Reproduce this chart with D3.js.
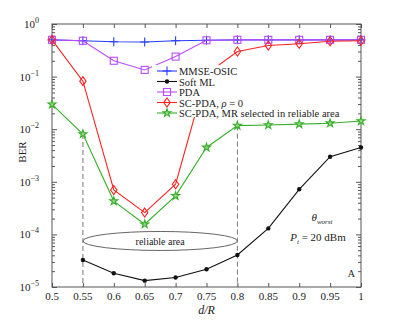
<!DOCTYPE html>
<html>
<head>
<meta charset="utf-8">
<script src="https://cdn.jsdelivr.net/npm/d3@7"></script>
<style>
  body { margin: 0; background: #fff; }
  svg text { font-family: "Liberation Serif", "DejaVu Serif", serif; }
</style>
</head>
<body>
<svg id="chart"></svg>
<script>
/* BER vs d/R chart */

const ratios = [0.5, 0.55, 0.6, 0.65, 0.7, 0.75, 0.8, 0.85, 0.9, 0.95, 1];
const mlRatios = [0.55, 0.6, 0.65, 0.7, 0.75, 0.8, 0.85, 0.9, 0.95, 1];

const mmseOsic = [0.5, 0.48, 0.46, 0.455, 0.48, 0.49, 0.5, 0.5, 0.5, 0.5, 0.5];
const softMl = [3.25e-5, 1.82e-5, 1.32e-5, 1.52e-5, 2.18e-5, 4.07e-5, 1.3e-4, 7.2e-4, 3.0e-3, 4.5e-3];
const pda = [0.5, 0.48, 0.2, 0.134, 0.24, 0.49, 0.5, 0.5, 0.5, 0.5, 0.5];
const scPda = [0.5, 0.082, 7.0e-4, 2.6e-4, 9.0e-4, 0.112, 0.3, 0.39, 0.42, 0.47, 0.48];
const scPdaMr = [0.0297, 0.0081, 4.3e-4, 1.56e-4, 5.4e-4, 0.0045, 0.0117, 0.012, 0.0125, 0.013, 0.0143];

const xTicks = [0.5, 0.55, 0.6, 0.65, 0.7, 0.75, 0.8, 0.85, 0.9, 0.95, 1];
const xTickLabels = ["0.5", "0.55", "0.6", "0.65", "0.7", "0.75", "0.8", "0.85", "0.9", "0.95", "1"];
const yTicks = [1e-5, 1e-4, 1e-3, 1e-2, 1e-1, 1];
const yExponents = ["−5", "−4", "−3", "−2", "−1", "0"];

const reliable = [0.55, 0.8];

const width = 399, height = 324;
const margin = {top: 24, right: 38, bottom: 37, left: 52};

const svg = d3.select("#chart").attr("width", width).attr("height", height);

const x = d3.scaleLinear().domain([0.5, 1]).range([margin.left, width - margin.right]);
const y = d3.scaleLog().domain([1e-5, 1]).range([height - margin.bottom, margin.top]);

const axisColor = "#555";

/*** frame */
svg.append("rect")
    .attr("x", margin.left).attr("y", margin.top)
    .attr("width", x(1) - x(0.5)).attr("height", y(1e-5) - y(1))
    .attr("fill", "none").attr("stroke", axisColor).attr("stroke-width", 1);

/*** minor ticks on y */
let minors = [];
for (let e = -5; e < 0; e++) for (let k = 2; k <= 9; k++) minors.push(k * Math.pow(10, e));

const yAxisL = d3.axisLeft(y).tickValues(yTicks).tickSizeInner(-5).tickSizeOuter(0).tickFormat("");
const yAxisR = d3.axisRight(y).tickValues(yTicks).tickSizeInner(-5).tickSizeOuter(0).tickFormat("");
const yMinorL = d3.axisLeft(y).tickValues(minors).tickSizeInner(-3).tickSizeOuter(0).tickFormat("");
const yMinorR = d3.axisRight(y).tickValues(minors).tickSizeInner(-3).tickSizeOuter(0).tickFormat("");
const xAxisB = d3.axisBottom(x).tickValues(xTicks).tickSizeInner(-4).tickSizeOuter(0).tickFormat("");
const xAxisT = d3.axisTop(x).tickValues(xTicks).tickSizeInner(-4).tickSizeOuter(0).tickFormat("");

[[yAxisL, `translate(${margin.left},0)`], [yMinorL, `translate(${margin.left},0)`],
 [yAxisR, `translate(${width - margin.right},0)`], [yMinorR, `translate(${width - margin.right},0)`],
 [xAxisB, `translate(0,${height - margin.bottom})`], [xAxisT, `translate(0,${margin.top})`]]
  .forEach(([ax, tr]) => {
    const g = svg.append("g").attr("transform", tr).call(ax);
    g.select(".domain").remove();
    g.selectAll("line").attr("stroke", axisColor);
  });

/*** tick labels */
svg.append("g").selectAll("text")
    .data(xTicks)
    .join("text")
    .attr("x", d => x(d))
    .attr("y", height - margin.bottom + 13)
    .attr("text-anchor", "middle")
    .attr("font-size", "11px")
    .attr("fill", "#222")
    .text((d, i) => xTickLabels[i]);

const yl = svg.append("g").selectAll("text")
    .data(yTicks)
    .join("text")
    .attr("x", margin.left - 13)
    .attr("y", d => y(d) + 4)
    .attr("text-anchor", "end")
    .attr("font-size", "11px")
    .attr("fill", "#222");
yl.append("tspan").text("10");
yl.append("tspan").attr("dy", -5).attr("font-size", "8px").text((d, i) => yExponents[i]);

/*** axis titles */
svg.append("text")
    .attr("x", (x(0.5) + x(1)) / 2).attr("y", height - margin.bottom + 27)
    .attr("text-anchor", "middle").attr("font-size", "12px").attr("font-style", "italic")
    .attr("fill", "#222")
    .text("d/R");

svg.append("text")
    .attr("transform", `translate(26,152) rotate(-90)`)
    .attr("text-anchor", "middle").attr("font-size", "11px").attr("fill", "#222")
    .text("BER");

/*** dashed reliable-area lines and ellipse */
svg.append("g").selectAll("line")
    .data(reliable)
    .join("line")
    .attr("x1", d => x(d)).attr("x2", d => x(d))
    .attr("y1", d => y(scPdaMr[ratios.indexOf(d)]))
    .attr("y2", y(1e-5))
    .attr("stroke", "#777").attr("stroke-dasharray", "5,3").attr("stroke-width", 1);

svg.append("ellipse")
    .attr("cx", (x(reliable[0]) + x(reliable[1])) / 2)
    .attr("cy", y(7.5e-5))
    .attr("rx", (x(reliable[1]) - x(reliable[0])) / 2)
    .attr("ry", 9.5)
    .attr("fill", "none").attr("stroke", "#666").attr("stroke-width", 1);

svg.append("text")
    .attr("x", (x(reliable[0]) + x(reliable[1])) / 2).attr("y", y(7.5e-5) + 4)
    .attr("text-anchor", "middle").attr("font-size", "10px").attr("fill", "#222")
    .text("reliable area");

/*** series */
const series = [
  {name: "MMSE-OSIC", xs: ratios, ys: mmseOsic, color: "#2a3cff", marker: "plus"},
  {name: "Soft ML", xs: mlRatios, ys: softMl, color: "#111", marker: "dot"},
  {name: "PDA", xs: ratios, ys: pda, color: "#b84cff", marker: "square"},
  {name: "SC-PDA, ρ = 0", xs: ratios, ys: scPda, color: "#ff2020", marker: "diamond"},
  {name: "SC-PDA, MR selected in reliable area", xs: ratios, ys: scPdaMr, color: "#36b02a", marker: "star"}
];

const drawMarker = (g, type, color) => {
  if (type === "plus") {
    g.append("path").attr("d", "M-4.5,0H4.5M0,-4.5V4.5").attr("stroke", color).attr("stroke-width", 1.1).attr("fill", "none");
  } else if (type === "dot") {
    g.append("circle").attr("r", 2.2).attr("fill", color);
  } else if (type === "square") {
    g.append("rect").attr("x", -3.5).attr("y", -3.5).attr("width", 7).attr("height", 7)
        .attr("fill", "none").attr("stroke", color).attr("stroke-width", 1.1);
  } else if (type === "diamond") {
    g.append("path").attr("d", "M0,-4.5L3.2,0L0,4.5L-3.2,0Z").attr("fill", "none").attr("stroke", color).attr("stroke-width", 1.1);
  } else if (type === "star") {
    g.append("path").attr("d", d3.symbol(d3.symbolStar, 20)()).attr("fill", "#9bd68c").attr("stroke", color).attr("stroke-width", 1.1);
  }
};

const line = d3.line().x(d => x(d[0])).y(d => y(d[1]));

series.forEach(s => {
  const pts = s.xs.map((v, i) => [v, s.ys[i]]);
  svg.append("path").datum(pts)
      .attr("d", line).attr("fill", "none").attr("stroke", s.color).attr("stroke-width", 1.1);
  svg.append("g").selectAll("g")
      .data(pts)
      .join("g")
      .attr("transform", d => `translate(${x(d[0])},${y(d[1])})`)
      .each(function () { drawMarker(d3.select(this), s.marker, s.color); });
});

/*** legend */
const legend = svg.append("g").attr("transform", "translate(154,71)");
legend.append("rect").attr("x", -2).attr("y", -6).attr("width", 198).attr("height", 52).attr("fill", "#fff");
series.forEach((s, i) => {
  const row = legend.append("g").attr("transform", `translate(0,${i * 10.5})`);
  row.append("line").attr("x1", 3).attr("x2", 23).attr("stroke", s.color).attr("stroke-width", 1.1);
  drawMarker(row.append("g").attr("transform", "translate(13,0)"), s.marker, s.color);
  const t = row.append("text").attr("x", 25).attr("y", 4).attr("font-size", "10.5px").attr("fill", "#222");
  if (s.marker === "diamond") {
    t.append("tspan").text("SC-PDA, ");
    t.append("tspan").attr("font-style", "italic").text("ρ");
    t.append("tspan").text(" = 0");
  } else {
    t.text(s.name);
  }
});

/*** annotations */
const th = svg.append("text").attr("x", 322).attr("y", 221).attr("text-anchor", "middle")
    .attr("font-size", "11px").attr("fill", "#222");
th.append("tspan").attr("font-style", "italic").text("θ");
th.append("tspan").attr("font-style", "italic").attr("font-size", "7px").attr("dy", 3).text("worst");

const pt = svg.append("text").attr("x", 318).attr("y", 241).attr("text-anchor", "middle")
    .attr("font-size", "11px").attr("fill", "#222");
pt.append("tspan").attr("font-style", "italic").text("P");
pt.append("tspan").attr("font-style", "italic").attr("font-size", "7px").attr("dy", 3).text("t");
pt.append("tspan").attr("dy", -3).text(" = 20  dBm");

svg.append("text").attr("x", 355).attr("y", 277).attr("text-anchor", "end")
    .attr("font-size", "10px").attr("fill", "#222").text("A");
</script>
</body>
</html>
